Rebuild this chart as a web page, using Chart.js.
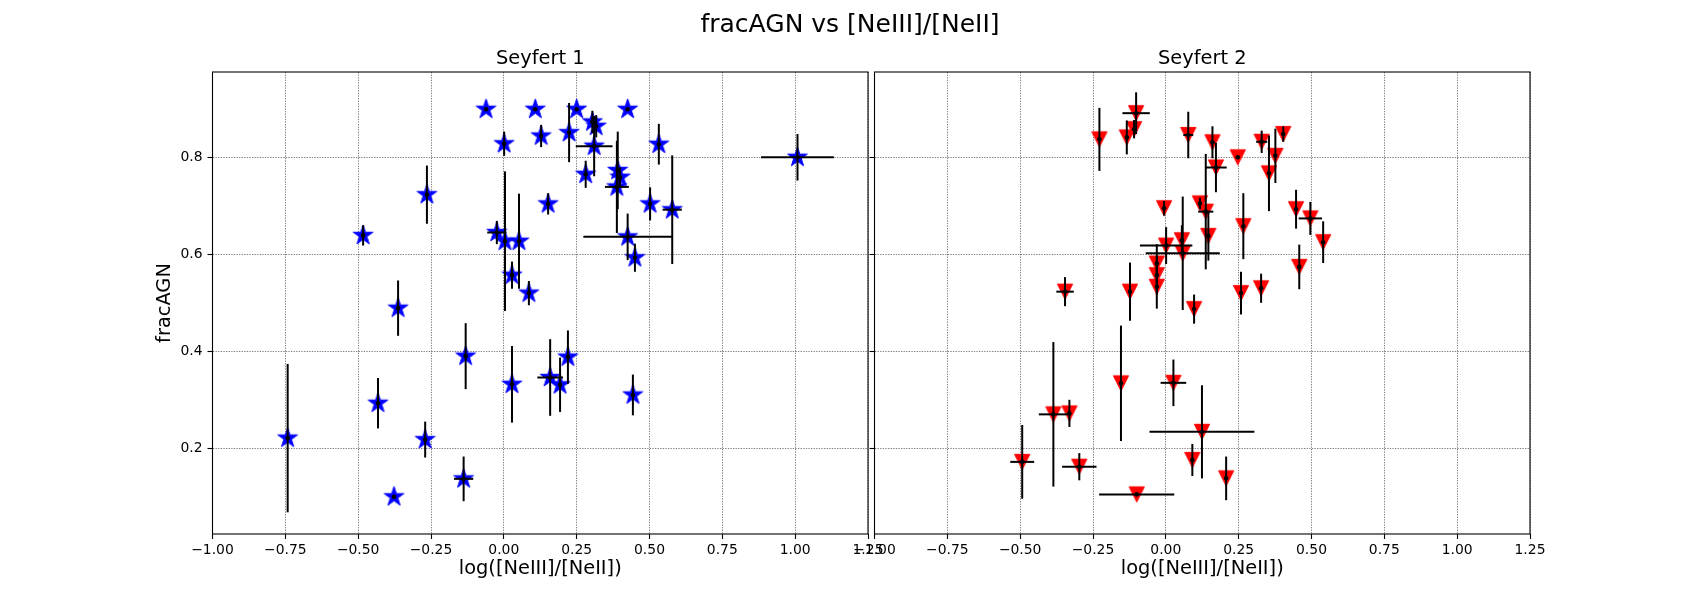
<!DOCTYPE html>
<html><head><meta charset="utf-8">
<script src="https://cdn.jsdelivr.net/npm/chart.js@4.4.1/dist/chart.umd.min.js"></script>
<style>
html,body{margin:0;padding:0;background:#fff;overflow:hidden;}
#wrap{position:relative;width:1700px;height:600px;background:#fff;}
#wrap canvas{position:absolute;left:0;top:0;}
#sup{position:absolute;left:0;top:9px;width:1700px;text-align:center;font-family:"DejaVu Sans";font-size:25px;line-height:30px;color:#000;white-space:nowrap;}
</style></head><body>
<div id="wrap">
<canvas id="c1" width="1700" height="600"></canvas>
<canvas id="c2" width="1700" height="600"></canvas>
<div id="sup">fracAGN vs [NeIII]/[NeII]</div>
</div>
<script>
// ---- data ----
const panelTitles = ['Seyfert 1', 'Seyfert 2'];
const xLabel = 'log([NeIII]/[NeII])';
const yLabel = 'fracAGN';
const xTicks = [-1.00, -0.75, -0.50, -0.25, 0.00, 0.25, 0.50, 0.75, 1.00, 1.25];
const yTicks = [0.2, 0.4, 0.6, 0.8];
const xRange = [-1.0, 1.25];
const yRange = [0.0233, 0.9759];

// Seyfert 1
const sy1X = [-0.742,-0.483,-0.432,-0.377,-0.363,-0.270,-0.264,-0.131,-0.138,-0.061,
              -0.024,0.001,0.004,0.028,0.028,0.052,0.086,0.108,0.128,0.152,
              0.159,0.193,0.220,0.224,0.250,0.281,0.304,0.317,0.310,0.391,
              0.399,0.388,0.425,0.425,0.443,0.450,0.502,0.532,0.578,1.008];
const sy1Y = [0.221,0.639,0.293,0.100,0.489,0.218,0.723,0.390,0.137,0.899,
              0.645,0.828,0.627,0.557,0.332,0.627,0.520,0.899,0.844,0.704,
              0.346,0.331,0.388,0.851,0.899,0.765,0.873,0.864,0.823,0.773,
              0.759,0.739,0.899,0.636,0.310,0.593,0.704,0.827,0.692,0.800];
const sy1Yerr = [0.153,0.021,0.052,0,0.057,0.037,0.060,0.068,0.046,0,
                 0.024,0.025,0.144,0.028,0.079,0.098,0.025,0,0.023,0.022,
                 0.079,0.056,0.055,0.061,0,0.028,0.023,0.023,0.062,0.080,
                 0.020,0.095,0,0.048,0.042,0.029,0.034,0.042,0.112,0.048];
const sy1Xerr = [0,0,0,0,0,0,0,0,0.033,0,
                 0.033,0,0,0,0,0,0,0,0,0,
                 0.044,0,0,0,0,0,0,0,0.063,0,
                 0,0.041,0,0.152,0,0,0,0,0.033,0.125];

// Seyfert 2
const sy2X = [-0.228,-0.134,-0.109,-0.102,-0.006,0.001,-0.031,-0.031,-0.031,-0.346,
              -0.123,0.077,0.160,0.172,0.247,0.329,0.403,0.376,0.354,0.447,
              0.496,0.540,0.458,0.266,0.258,0.327,0.117,0.137,0.146,0.055,
              0.058,-0.493,-0.386,-0.331,-0.297,-0.154,0.026,-0.100,0.124,0.097,
              0.091,0.207];
const sy2Y = [0.837,0.841,0.858,0.891,0.695,0.618,0.581,0.557,0.533,0.523,
              0.523,0.846,0.831,0.779,0.800,0.832,0.848,0.803,0.767,0.693,
              0.674,0.625,0.574,0.658,0.520,0.530,0.705,0.688,0.638,0.629,
              0.602,0.172,0.270,0.272,0.162,0.334,0.335,0.105,0.234,0.487,
              0.176,0.138];
const sy2Yerr = [0.065,0.035,0.019,0.043,0.015,0.038,0.040,0.040,0.045,0.030,
                 0.060,0.048,0.033,0.051,0,0.023,0.016,0.056,0.078,0.040,
                 0.034,0.043,0.046,0.068,0.044,0.030,0.012,0.119,0.051,0.031,
                 0.117,0.076,0.149,0.028,0.028,0.119,0.048,0,0.096,0.030,
                 0.033,0.045];
const sy2Xerr = [0,0,0,0.047,0,0.090,0,0,0,0.030,
                 0,0.017,0,0.037,0,0.019,0,0,0,0,
                 0.040,0,0,0,0,0,0,0.026,0,0,
                 0.127,0.041,0.050,0,0.059,0,0.044,0.129,0.180,0,
                 0,0];

// ---- marker images ----
function starImage(R, color){
  const s = Math.ceil(2*R + 4), c = document.createElement('canvas');
  c.width = s; c.height = s;
  const g = c.getContext('2d'), cx = s/2, cy = s/2, r = R*0.381966;
  g.beginPath();
  for (let i = 0; i < 10; i++){
    const a = -Math.PI/2 + i*Math.PI/5, rr = (i%2===0) ? R : r;
    const px = cx + rr*Math.cos(a), py = cy + rr*Math.sin(a);
    if (i===0) g.moveTo(px,py); else g.lineTo(px,py);
  }
  g.closePath();
  g.fillStyle = color; g.fill();
  g.lineWidth = 1; g.strokeStyle = color; g.lineJoin='miter'; g.stroke();
  return c;
}
function triDownImage(h, color){
  const s = Math.ceil(2*h + 4), c = document.createElement('canvas');
  c.width = s; c.height = s;
  const g = c.getContext('2d'), cx = s/2, cy = s/2;
  g.beginPath();
  g.moveTo(cx, cy + h); g.lineTo(cx - h, cy - h); g.lineTo(cx + h, cy - h);
  g.closePath();
  g.fillStyle = color; g.fill();
  g.lineWidth = 1; g.strokeStyle = color; g.stroke();
  return c;
}

const FONT = '"DejaVu Sans"';

function fmtX(v){ const s = Number(v).toFixed(2); return s.replace('-', '\u2212'); }
function fmtY(v){ return Number(v).toFixed(1); }

function makeChart(canvasId, panelIdx, xs, ys, xerr, yerr, marker, showYLabels){
  const pts = xs.map((x,i)=>({x:x, y:ys[i]}));
  const errPlugin = {
    id: 'errbars'+panelIdx,
    afterDatasetDraw(chart, args){
      if (args.index !== 0) return;
      const ctx = chart.ctx, sx = chart.scales.x, sy = chart.scales.y;
      ctx.save();
      ctx.strokeStyle = '#000'; ctx.lineWidth = 2; ctx.lineCap = 'butt';
      for (let i = 0; i < xs.length; i++){
        const px = sx.getPixelForValue(xs[i]), py = sy.getPixelForValue(ys[i]);
        if (yerr[i] > 0){
          ctx.beginPath();
          ctx.moveTo(px, sy.getPixelForValue(ys[i]-yerr[i]));
          ctx.lineTo(px, sy.getPixelForValue(ys[i]+yerr[i]));
          ctx.stroke();
        }
        if (xerr[i] > 0){
          ctx.beginPath();
          ctx.moveTo(sx.getPixelForValue(xs[i]-xerr[i]), py);
          ctx.lineTo(sx.getPixelForValue(xs[i]+xerr[i]), py);
          ctx.stroke();
        }
      }
      ctx.restore();
    }
  };
  const framePlugin = {
    id: 'frame'+panelIdx,
    afterDraw(chart){
      const a = chart.chartArea, ctx = chart.ctx;
      ctx.save();
      ctx.strokeStyle = '#000'; ctx.lineWidth = 1.1;
      ctx.strokeRect(a.left, a.top, a.right - a.left, a.bottom - a.top);
      ctx.fillStyle = '#000';
      ctx.font = '19.4px ' + FONT;
      ctx.textAlign = 'center'; ctx.textBaseline = 'alphabetic';
      ctx.fillText(panelTitles[panelIdx], (a.left + a.right)/2, 63.7);
      ctx.restore();
    }
  };
  const leftEdge = panelIdx === 0 ? 212.5 : 874.5;
  const rightEdge = panelIdx === 0 ? 868 : 1530;
  return new Chart(document.getElementById(canvasId), {
    type: 'scatter',
    data: { datasets: [
      { data: pts, pointStyle: marker, pointRadius: 10, pointHoverRadius: 10, order: 1, clip: false },
      { data: pts, pointStyle: 'circle', pointRadius: 2.3, pointHoverRadius: 2.3,
        backgroundColor: '#000', borderColor: '#000', borderWidth: 0, order: 0, clip: false }
    ]},
    options: {
      responsive: false, animation: false, events: [],
      layout: { padding: { left: 0, right: 1700 - rightEdge, top: 72, bottom: 0 } },
      plugins: { legend: { display: false }, tooltip: { enabled: false }, title: { display: false } },
      scales: {
        x: {
          type: 'linear', min: xRange[0], max: xRange[1],
          afterBuildTicks: (s) => { s.ticks = xTicks.map(v => ({value: v})); },
          afterFit: (s) => { s.height = 66; },
          ticks: { callback: (v) => fmtX(v), color: '#000', font: { family: FONT, size: 13.9 }, padding: 3, maxRotation: 0, autoSkip: false },
          grid: { color: '#444', lineWidth: 0.7, tickColor: '#000', tickWidth: 1.1, tickLength: 5, tickBorderDash: [] },
          border: { display: false, dash: [1.3, 1.3] },
          title: { display: true, text: xLabel, color: '#000', font: { family: FONT, size: 19.4 }, padding: { top: 0, bottom: 19.4 } }
        },
        y: {
          type: 'linear', min: yRange[0], max: yRange[1],
          afterBuildTicks: (s) => { s.ticks = yTicks.map(v => ({value: v})); },
          afterFit: (s) => { s.width = leftEdge; },
          ticks: { display: showYLabels, callback: (v) => fmtY(v), color: '#000', font: { family: FONT, size: 13.9 }, padding: 5 },
          grid: { color: '#444', lineWidth: 0.7, tickColor: '#000', tickWidth: 1.1, tickLength: 5, tickBorderDash: [] },
          border: { display: false, dash: [1.3, 1.3] },
          title: { display: showYLabels, text: yLabel, color: '#000', font: { family: FONT, size: 19.4 }, padding: { top: 153.4, bottom: 0 } }
        }
      }
    },
    plugins: [errPlugin, framePlugin]
  });
}

makeChart('c1', 0, sy1X, sy1Y, sy1Xerr, sy1Yerr, starImage(10.4, '#0000ff'), true);
makeChart('c2', 1, sy2X, sy2Y, sy2Xerr, sy2Yerr, triDownImage(7.6, '#ff0000'), false);
</script>
</body></html>
